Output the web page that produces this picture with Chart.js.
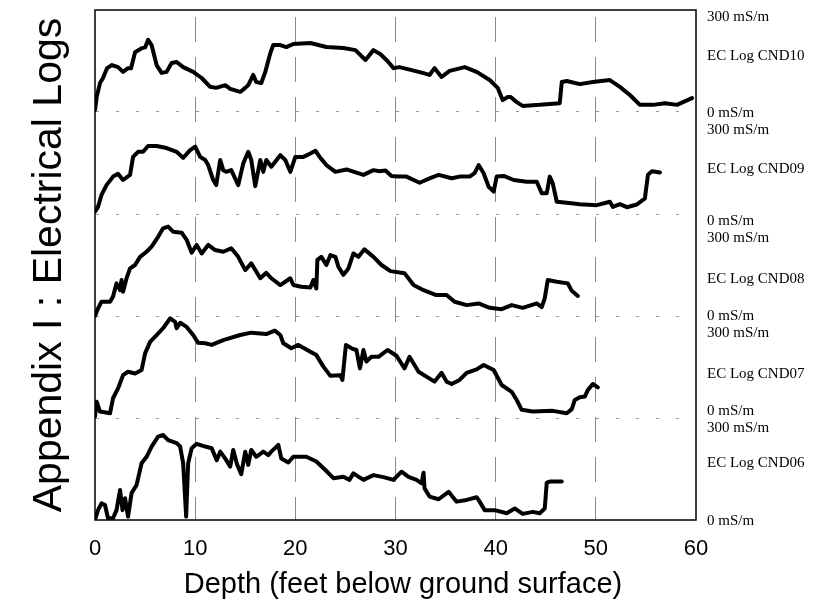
<!DOCTYPE html>
<html>
<head>
<meta charset="utf-8">
<script src="https://cdn.jsdelivr.net/npm/chart.js@4/dist/chart.umd.min.js"></script>
<style>
  html, body { margin: 0; padding: 0; background: #fff; }
</style>
</head>
<body>
<canvas id="logChart" width="820" height="608"></canvas>
<script>
// EC logs: [depth (ft), conductivity (mS/m)]
var cnd10 = [[0,6],[0.17,45],[0.5,85],[0.8,100],[1.2,129],[1.7,138],[2.3,132],[2.8,118],[3.3,129],[3.6,129],[4.0,176],[4.7,188],[5.0,190],[5.3,212],[5.65,197],[6.15,138],[6.65,115],[7.15,118],[7.65,144],[8.15,147],[8.8,132],[9.8,118],[10.65,100],[11.5,74],[12.1,71],[13.0,79],[13.5,68],[14.5,59],[15.0,71],[15.3,79],[15.8,109],[16.1,88],[16.6,85],[17.0,118],[17.5,173],[17.8,197],[18.5,197],[19.1,191],[19.8,200],[21.5,203],[23.1,191],[24.8,188],[26.0,182],[27.0,153],[27.8,182],[28.5,170],[29.2,150],[29.8,129],[30.4,132],[32.7,115],[33.4,109],[33.9,129],[34.6,103],[35.4,121],[36.9,132],[38.1,118],[39.4,94],[40.2,71],[40.7,35],[41.2,44],[41.5,44],[42.1,29],[42.7,18],[44.4,21],[46.4,26],[46.6,88],[47.1,91],[48.4,82],[49.7,88],[51.4,94],[52.4,74],[53.4,50],[54.4,21],[55.7,21],[56.9,26],[58.1,21],[58.7,29],[59.6,41]];

var cnd09 = [[0,7],[0.3,21],[0.65,56],[1.15,85],[1.8,110],[2.3,118],[2.8,100],[3.5,115],[3.8,168],[4.3,183],[4.8,183],[5.3,200],[6.15,200],[7.15,194],[8.15,183],[8.8,165],[9.5,188],[10.0,198],[10.5,168],[11.0,159],[11.3,144],[11.8,100],[12.1,85],[12.5,159],[12.8,129],[13.1,124],[13.6,129],[14.3,85],[14.8,149],[15.3,183],[15.6,159],[16.0,82],[16.5,159],[16.8,124],[17.1,159],[17.6,139],[18.5,173],[19.0,159],[19.5,124],[20.0,168],[20.8,168],[21.5,178],[22.0,186],[22.5,165],[23.1,144],[24.0,124],[25.1,131],[26.8,115],[27.8,129],[28.4,126],[29.0,128],[29.6,112],[30.3,110],[31.1,110],[32.4,92],[33.4,105],[34.3,115],[35.6,105],[36.4,110],[37.4,110],[37.9,120],[38.3,144],[38.8,120],[39.3,80],[39.8,66],[40.1,110],[40.8,112],[41.8,100],[43.1,95],[44.1,95],[44.6,61],[45.1,61],[45.4,110],[45.7,90],[46.1,36],[47.1,33],[48.4,29],[50.1,26],[51.4,36],[51.7,21],[52.4,29],[53.1,20],[54.1,28],[54.9,46],[55.2,115],[55.6,126],[56.4,122]];

var cnd08 = [[0,0],[0.3,22],[0.65,42],[1.5,42],[1.8,57],[2.15,96],[2.5,76],[2.65,106],[2.8,71],[3.15,111],[3.5,140],[4.0,150],[4.5,174],[5.15,189],[5.65,204],[6.3,233],[6.8,258],[7.3,263],[7.8,248],[8.65,245],[9.15,224],[9.65,186],[10.15,209],[10.65,184],[11.3,209],[12.0,194],[12.8,189],[13.6,199],[14.3,174],[15.0,135],[15.6,155],[16.5,111],[17.1,127],[17.6,111],[18.5,91],[19.5,111],[19.8,91],[20.6,86],[21.5,84],[21.8,106],[22.1,81],[22.2,165],[22.6,174],[23.1,150],[23.5,179],[24.0,174],[24.3,145],[24.8,121],[25.3,140],[25.8,184],[26.3,174],[26.9,196],[27.8,174],[28.6,150],[29.5,132],[30.9,126],[31.8,91],[32.8,76],[34.0,62],[35.1,62],[35.9,42],[37.1,32],[38.3,37],[39.4,24],[40.6,20],[41.6,32],[42.7,24],[44.1,37],[44.6,26],[44.9,52],[45.2,106],[46.1,101],[47.2,96],[47.6,74],[48.2,59]];

var cnd07 = [[0,4],[0.17,48],[0.5,19],[1.5,14],[1.8,58],[2.3,87],[2.8,126],[3.3,136],[4.0,131],[4.65,141],[5.0,190],[5.5,224],[6.15,244],[6.8,264],[7.5,293],[8.0,283],[8.15,264],[8.5,280],[9.15,268],[9.8,244],[10.3,221],[11.0,220],[11.65,215],[12.8,229],[14.5,244],[15.6,251],[17.1,247],[17.95,257],[18.5,244],[18.8,220],[19.6,205],[20.3,215],[21.5,195],[22.1,185],[22.8,151],[23.5,124],[24.5,126],[24.7,112],[25.05,215],[25.6,205],[26.1,200],[26.45,146],[26.8,200],[27.1,166],[27.6,180],[28.3,180],[29.2,200],[30.1,183],[30.9,146],[31.4,180],[32.3,136],[33.9,107],[34.6,133],[35.1,107],[35.6,100],[36.4,112],[37.1,133],[38.1,143],[38.8,156],[39.8,141],[40.6,97],[41.6,77],[42.1,53],[42.6,24],[43.7,19],[45.7,21],[47.1,14],[47.6,26],[47.9,53],[48.4,61],[48.9,63],[49.2,82],[49.7,100],[50.2,90]];

var cnd06 = [[0,0],[0.3,29],[0.65,49],[1.0,44],[1.3,5],[1.8,5],[2.15,29],[2.5,88],[2.75,29],[3.0,64],[3.3,10],[3.65,79],[4.15,103],[4.65,167],[5.15,186],[5.65,216],[6.3,245],[6.8,250],[7.3,235],[8.15,226],[8.5,216],[8.8,167],[9.1,10],[9.3,167],[9.65,211],[10.15,224],[11.0,216],[11.65,211],[12.15,176],[12.5,201],[13.0,181],[13.5,157],[13.8,206],[14.2,162],[14.6,135],[15.0,201],[15.3,162],[15.6,206],[16.1,186],[16.8,201],[17.3,191],[17.6,201],[18.3,221],[18.6,181],[19.3,169],[19.8,186],[21.1,186],[22.1,172],[23.0,147],[23.8,123],[24.8,127],[25.4,118],[25.8,137],[26.8,118],[27.8,132],[28.8,126],[29.8,118],[30.6,142],[31.3,127],[32.1,118],[32.6,108],[32.8,139],[32.9,93],[33.4,69],[34.3,61],[35.3,83],[36.1,54],[37.1,59],[38.1,67],[38.4,54],[38.9,29],[39.9,29],[41.1,20],[41.9,34],[42.7,18],[43.7,24],[44.4,20],[44.9,34],[45.1,110],[45.4,113],[46.6,113]];

var logNames = ['EC Log CND10', 'EC Log CND09', 'EC Log CND08', 'EC Log CND07', 'EC Log CND06'];
var logSeries = [cnd10, cnd09, cnd08, cnd07, cnd06];
var trackBase = [1200, 900, 600, 300, 0];   // each track spans 0-300 mS/m
var depthTicks = [0, 10, 20, 30, 40, 50, 60];

// right-hand annotation text (pixel rows)
var sideText = [
    ['300 mS/m', 17], ['EC Log CND10', 56], ['0 mS/m', 113],
    ['300 mS/m', 130], ['EC Log CND09', 169], ['0 mS/m', 221],
    ['300 mS/m', 238], ['EC Log CND08', 279], ['0 mS/m', 316],
    ['300 mS/m', 333], ['EC Log CND07', 374], ['0 mS/m', 411],
    ['300 mS/m', 428], ['EC Log CND06', 463], ['0 mS/m', 521]
];
var xTitle = 'Depth (feet below ground surface)';

var SANS = '"Liberation Sans", Arial, sans-serif';
var SERIF = '"Liberation Serif", "Times New Roman", serif';

function buildDatasets() {
    return logSeries.map(function(series, i) {
        return {
            label: logNames[i],
            data: series.map(function(p) { return { x: p[0], y: trackBase[i] + p[1] }; }),
            borderColor: '#000',
            borderWidth: 4,
            pointRadius: 0,
            tension: 0,
            borderJoinStyle: 'round',
            borderCapStyle: 'round',
            fill: false
        };
    });
}

// plot frame, right-hand labels and the depth title
var frameAndLabels = {
    id: 'frameAndLabels',
    afterDraw: function(chart) {
        var ctx = chart.ctx, a = chart.chartArea;
        ctx.save();
        ctx.strokeStyle = '#000';
        ctx.lineWidth = 1.5;
        ctx.strokeRect(a.left, a.top, a.right - a.left, a.bottom - a.top);
        ctx.fillStyle = '#000';
        ctx.font = '15px ' + SERIF;
        ctx.textBaseline = 'middle';
        ctx.textAlign = 'left';
        sideText.forEach(function(t) {
            ctx.fillText(t[0], a.right + 11, t[1]);
        });
        ctx.font = '29px ' + SANS;
        ctx.textAlign = 'center';
        ctx.fillText(xTitle, 403, 585);
        ctx.restore();
    }
};

var ctx = document.getElementById('logChart').getContext('2d');
new Chart(ctx, {
    type: 'line',
    data: { datasets: buildDatasets() },
    options: {
        responsive: false,
        animation: false,
        layout: { padding: { left: 0, right: 124, top: 10, bottom: 0 } },
        plugins: {
            legend: { display: false },
            tooltip: { enabled: false }
        },
        scales: {
            x: {
                type: 'linear',
                min: 0,
                max: 60,
                afterBuildTicks: function(scale) {
                    scale.ticks = depthTicks.map(function(v) { return { value: v }; });
                },
                afterFit: function(scale) { scale.height = 88; },
                ticks: {
                    color: '#000',
                    font: { family: SANS, size: 22 },
                    padding: 16,
                    maxRotation: 0
                },
                grid: {
                    drawTicks: false,
                    lineWidth: 1,
                    color: function(c) {
                        var v = c.tick ? c.tick.value : null;
                        return (v === 0 || v === 60) ? 'rgba(0,0,0,0)' : '#8a8a8a';
                    }
                },
                border: { display: false, dash: [25, 15], dashOffset: 33 },
                title: { display: false }
            },
            y: {
                type: 'linear',
                min: 0,
                max: 1500,
                ticks: { display: false, stepSize: 300 },
                afterFit: function(scale) { scale.width = 95; },
                grid: {
                    drawTicks: false,
                    lineWidth: 1,
                    color: function(c) {
                        var v = c.tick ? c.tick.value : null;
                        return (v === 0 || v === 1500) ? 'rgba(0,0,0,0)' : '#9a9a9a';
                    }
                },
                border: { display: false, dash: [3, 17], dashOffset: 19 },
                title: {
                    display: true,
                    text: 'Appendix I : Electrical Logs',
                    color: '#000',
                    font: { family: SANS, size: 41 },
                    padding: { top: 25, bottom: 0 }
                }
            }
        }
    },
    plugins: [frameAndLabels]
});
</script>
</body>
</html>
